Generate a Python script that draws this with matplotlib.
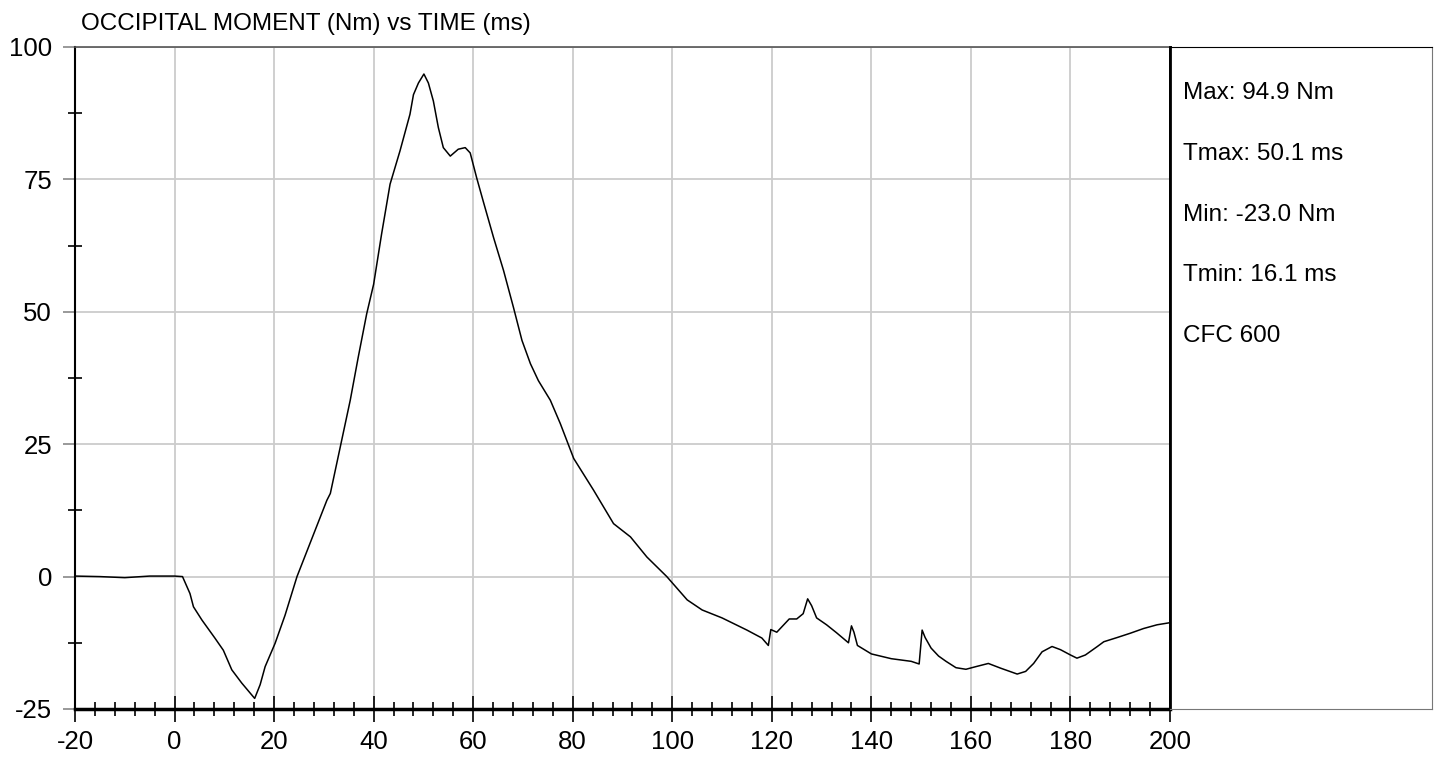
import matplotlib.pyplot as plt
from matplotlib.ticker import MultipleLocator

# time (ms) and occipital moment (Nm)
t_ms = [-20, -15, -10, -5, 0, 1.6, 3.1, 3.8, 5.5, 8.1, 9.8, 11.5, 13.5, 15.2, 16.1,
        17.2, 18.2, 20.2, 22.2, 24.6, 27.6, 30.6, 31.3, 33.3, 35.3, 36.9, 38.6, 40.0,
        41.6, 43.3, 45.3, 47.3, 48.0, 49.0, 50.1, 51.0, 52.0, 53.0, 54.0, 55.4, 57.0,
        58.4, 59.4, 60.7, 62.1, 64.1, 66.1, 68.1, 69.8, 71.5, 73.1, 75.5, 77.5, 80.2,
        84.2, 88.2, 91.6, 94.9, 98.9, 103, 106, 110, 115, 118, 119.3, 119.8, 121, 122.5,
        123.5, 125, 126.3, 127.2, 128, 129, 131, 133, 135.4, 136.0, 136.5, 137.2, 140,
        144, 148, 149.6, 150.2, 150.8, 152, 153.5, 155, 157, 159, 161, 163.5, 166,
        169.3, 171, 172.6, 174.3, 176.3, 178, 180, 181.3, 183, 185.4, 186.7, 189.4,
        192, 194.7, 197.4, 200]
moment_nm = [0.1, 0.0, -0.2, 0.1, 0.1, 0.0, -3.2, -5.7, -8.2, -11.6, -13.9, -17.6,
             -20.1, -22.0, -23.0, -20.4, -17.0, -12.6, -7.3, 0.0, 7.2, 14.4, 15.7, 24.5,
             33.3, 41.4, 49.6, 55.2, 64.7, 74.1, 80.4, 87.3, 91.0, 93.2, 94.9, 93.2,
             89.8, 84.8, 81.0, 79.4, 80.7, 81.0, 80.0, 75.3, 70.6, 64.0, 57.8, 50.8,
             44.6, 40.2, 37.0, 33.3, 28.9, 22.3, 16.3, 10.0, 7.5, 3.7, 0.0, -4.4, -6.3,
             -7.8, -10.1, -11.6, -13.0, -10.0, -10.5, -9.0, -8.0, -8.0, -7.0, -4.2,
             -5.5, -7.8, -9.1, -10.6, -12.5, -9.3, -10.5, -13.0, -14.6, -15.5, -16.0,
             -16.5, -10.1, -11.5, -13.5, -15.0, -16.0, -17.2, -17.5, -17.0, -16.4,
             -17.3, -18.4, -17.9, -16.4, -14.2, -13.2, -13.8, -14.8, -15.4, -14.8,
             -13.2, -12.3, -11.5, -10.7, -9.8, -9.1, -8.7]

title = "OCCIPITAL MOMENT (Nm) vs TIME (ms)"
stats_lines = ["Max: 94.9 Nm", "Tmax: 50.1 ms", "Min: -23.0 Nm", "Tmin: 16.1 ms", "CFC 600"]

W, H = 1436, 759
plt.rcParams['font.family'] = ['Liberation Sans', 'DejaVu Sans']
plt.rcParams['axes.unicode_minus'] = False

fig = plt.figure(figsize=(W / 100, H / 100), dpi=100)
ax = fig.add_axes([75 / W, 1 - 709 / H, 1095 / W, 662 / H])
panel = fig.add_axes([1170 / W, 1 - 709 / H, 262 / W, 662 / H])

ax.plot(t_ms, moment_nm, color='black', lw=1.1)
ax.set_xlim(-20, 200)
ax.set_ylim(-25, 100)

ax.xaxis.set_major_locator(MultipleLocator(20))
ax.xaxis.set_minor_locator(MultipleLocator(4))
ax.yaxis.set_major_locator(MultipleLocator(25))
ax.yaxis.set_minor_locator(MultipleLocator(12.5))
ax.grid(which='major', color='#cccccc', lw=1.3)
ax.set_axisbelow(True)

ax.tick_params(axis='x', which='major', direction='inout', length=18.5, width=1.2,
               color='black', labelsize=18.5, pad=6)
ax.tick_params(axis='x', which='minor', direction='inout', length=9.5, width=1.2,
               color='black')
ax.tick_params(axis='y', which='major', direction='out', length=8.5, width=1.2,
               color='#888888', labelsize=18.5, pad=8)
ax.tick_params(axis='y', which='minor', direction='inout', length=10, width=1.2,
               color='black')

ax.spines['left'].set_color('black')
ax.spines['left'].set_linewidth(1.5)
ax.spines['bottom'].set_color('black')
ax.spines['bottom'].set_linewidth(2.5)
ax.spines['top'].set_color('#555555')
ax.spines['top'].set_linewidth(1.2)
ax.spines['right'].set_color('black')
ax.spines['right'].set_linewidth(2)

panel.set_xticks([])
panel.set_yticks([])
panel.spines['top'].set_color('black')
panel.spines['left'].set_color('black')
panel.spines['left'].set_linewidth(2)
panel.spines['right'].set_color('#777777')
panel.spines['bottom'].set_color('#777777')

fig.text(81 / W, 1 - 30 / H, title, fontsize=17.5, va='baseline')
for i, line in enumerate(stats_lines):
    fig.text(1183 / W, 1 - (99 + 60.8 * i) / H, line, fontsize=17.5, va='baseline')

fig.savefig('out.png', dpi=100)
